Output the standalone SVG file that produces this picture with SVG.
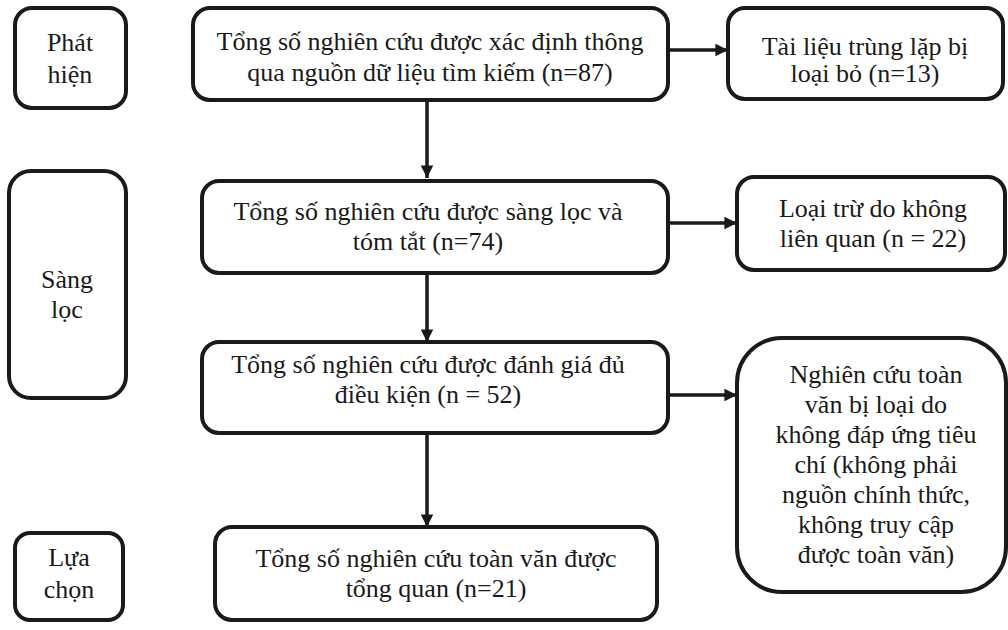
<svg xmlns="http://www.w3.org/2000/svg" width="1008" height="630" viewBox="0 0 1008 630">
<defs>
<style>
.box{fill:#fff;stroke:#1a1a1a;stroke-width:4}
.t{font-family:'Liberation Serif','DejaVu Serif',serif;font-size:26px;fill:#1a1a1a;text-anchor:middle}
.c{stroke:#1a1a1a;stroke-width:3.5;fill:none;marker-end:url(#ah)}
</style>
<marker id="ah" viewBox="0 0 10 10" refX="10" refY="5" markerWidth="3.6" markerHeight="3.6" orient="auto" markerUnits="strokeWidth">
<path d="M0,0 L10,5 L0,10 z" fill="#1a1a1a"/>
</marker>
</defs>
<rect width="1008" height="630" fill="#fff"/>
<g id="connectors">
<line class="c" x1="427" y1="100" x2="427" y2="178"/>
<line class="c" x1="427" y1="273" x2="427" y2="342"/>
<line class="c" x1="427" y1="433" x2="427" y2="527"/>
<line class="c" x1="668" y1="50" x2="728" y2="50"/>
<line class="c" x1="668" y1="223" x2="737" y2="223"/>
<line class="c" x1="668" y1="395" x2="737" y2="395"/>
</g>
<g id="phat-hien">
<rect class="box" x="15" y="8" width="111" height="100" rx="17"/>
<text class="t" x="70" y="51">Phát</text>
<text class="t" x="70" y="83">hiện</text>
</g>
<g id="sang-loc">
<rect class="box" x="9" y="171" width="117" height="227" rx="22"/>
<text class="t" x="67" y="288">Sàng</text>
<text class="t" x="67" y="318">lọc</text>
</g>
<g id="lua-chon">
<rect class="box" x="15" y="533" width="108" height="87" rx="15"/>
<text class="t" x="69" y="566">Lựa</text>
<text class="t" x="69" y="598">chọn</text>
</g>
<g id="n87">
<rect class="box" x="193" y="8" width="475" height="92" rx="17"/>
<text class="t" x="430" y="50">Tổng số nghiên cứu được xác định thông</text>
<text class="t" x="430" y="81">qua nguồn dữ liệu tìm kiếm (n=87)</text>
</g>
<g id="n13">
<rect class="box" x="728" y="8" width="275" height="91" rx="17"/>
<text class="t" x="865" y="55">Tài liệu trùng lặp bị</text>
<text class="t" x="865" y="82">loại bỏ (n=13)</text>
</g>
<g id="n74">
<rect class="box" x="202" y="181" width="466" height="92" rx="17"/>
<text class="t" x="428" y="220">Tổng số nghiên cứu được sàng lọc và</text>
<text class="t" x="428" y="250">tóm tắt (n=74)</text>
</g>
<g id="n22">
<rect class="box" x="737" y="177" width="268" height="93" rx="17"/>
<text class="t" x="873" y="217">Loại trừ do không</text>
<text class="t" x="873" y="247">liên quan (n = 22)</text>
</g>
<g id="n52">
<rect class="box" x="202" y="342" width="466" height="91" rx="17"/>
<text class="t" x="428" y="373">Tổng số nghiên cứu được đánh giá đủ</text>
<text class="t" x="428" y="403">điều kiện (n = 52)</text>
</g>
<g id="excluded">
<rect class="box" x="737" y="338" width="269" height="254" rx="45"/>
<text class="t" x="876" y="383">Nghiên cứu toàn</text>
<text class="t" x="876" y="413">văn bị loại do</text>
<text class="t" x="876" y="443">không đáp ứng tiêu</text>
<text class="t" x="876" y="473">chí (không phải</text>
<text class="t" x="876" y="503">nguồn chính thức,</text>
<text class="t" x="876" y="533">không truy cập</text>
<text class="t" x="876" y="563">được toàn văn)</text>
</g>
<g id="n21">
<rect class="box" x="215" y="527" width="442" height="93" rx="17"/>
<text class="t" x="436" y="567">Tổng số nghiên cứu toàn văn được</text>
<text class="t" x="436" y="597">tổng quan (n=21)</text>
</g>
</svg>
